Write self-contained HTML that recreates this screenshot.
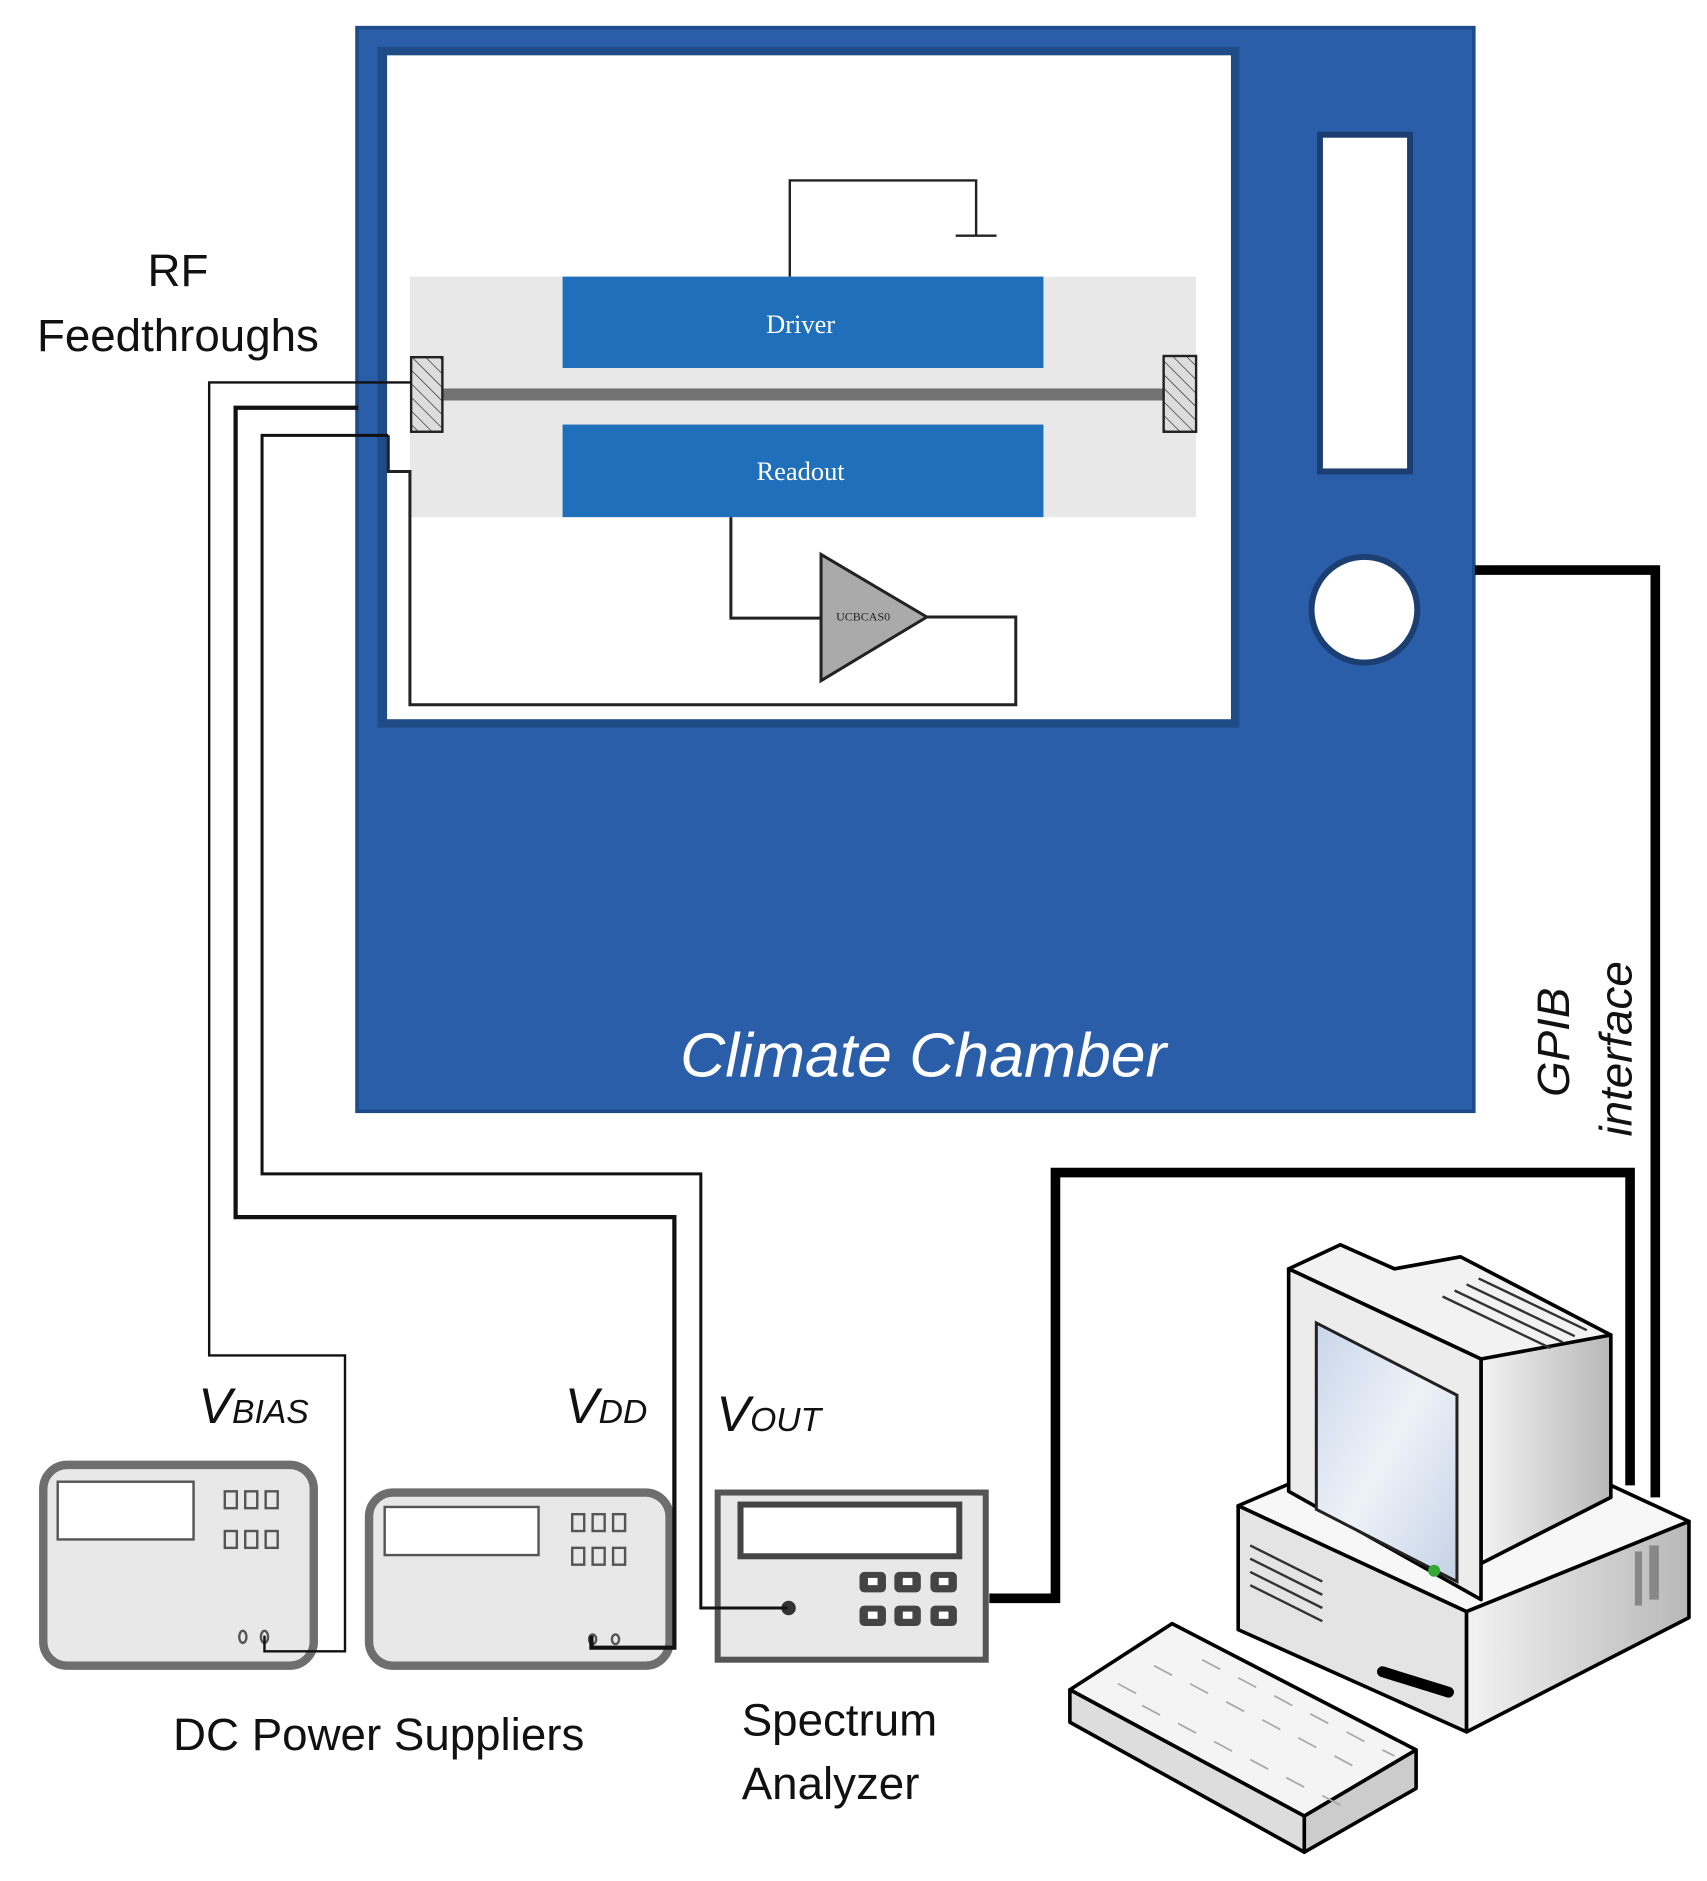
<!DOCTYPE html>
<html><head><meta charset="utf-8"><style>html,body{margin:0;padding:0;background:#fff}svg{display:block}</style></head>
<body>
<svg width="1707" height="1881" viewBox="0 0 1420 1564" preserveAspectRatio="none" xmlns="http://www.w3.org/2000/svg">
<defs>
<pattern id="h" width="8" height="8" patternUnits="userSpaceOnUse" patternTransform="rotate(-45)"><rect width="8" height="8" fill="#ddd"/><line x1="0" y1="0" x2="0" y2="8" stroke="#333" stroke-width="1.2"/></pattern>
<linearGradient id="scr" x1="0" y1="0" x2="1" y2="1"><stop offset="0" stop-color="#c8d6ea"/><stop offset="0.5" stop-color="#eef2f8"/><stop offset="1" stop-color="#c4d2e6"/></linearGradient>
<linearGradient id="side" x1="0" y1="0" x2="1" y2="0"><stop offset="0" stop-color="#f2f2f2"/><stop offset="1" stop-color="#b8b8b8"/></linearGradient>
</defs>
<!-- chamber -->
<rect x="297" y="23" width="929" height="901" fill="#2a5ea8" stroke="#1c4a8a" stroke-width="3"/>
<rect x="314" y="39" width="717" height="566" fill="#1f4b86"/>
<rect x="322" y="46" width="702" height="552" fill="#fff"/>
<rect x="1098" y="112" width="75" height="280" fill="#fff" stroke="#1c3f73" stroke-width="5"/>
<circle cx="1135" cy="507" r="44" fill="#fff" stroke="#1c3f73" stroke-width="5"/>
<text x="768" y="895" font-family="Liberation Sans, sans-serif" font-style="italic" font-size="52" fill="#fff" text-anchor="middle">Climate Chamber</text>
<!-- inner -->
<rect x="341" y="230" width="654" height="200" fill="#e8e8e8"/>
<polyline points="657,230 657,150 812,150 812,196" fill="none" stroke="#222" stroke-width="2"/>
<line x1="795" y1="196" x2="829" y2="196" stroke="#222" stroke-width="2"/>
<rect x="468" y="230" width="400" height="76" fill="#1f6fba"/>
<text x="666" y="277" font-family="Liberation Serif, serif" font-size="22" fill="#fff" text-anchor="middle">Driver</text>
<rect x="468" y="353" width="400" height="77" fill="#1f6fba"/>
<text x="666" y="399" font-family="Liberation Serif, serif" font-size="22" fill="#fff" text-anchor="middle">Readout</text>
<rect x="360" y="323" width="612" height="10" fill="#727272"/>
<rect x="342" y="297" width="26" height="62" fill="url(#h)" stroke="#222" stroke-width="2"/>
<rect x="968" y="296" width="27" height="63" fill="url(#h)" stroke="#222" stroke-width="2"/>
<polyline points="608,430 608,514 683,514" fill="none" stroke="#222" stroke-width="2.5"/>
<polygon points="683,461 683,566 771,513" fill="#aaa" stroke="#222" stroke-width="2.5"/>
<text x="718" y="516" font-family="Liberation Serif, serif" font-size="10" fill="#222" text-anchor="middle">UCBCAS0</text>
<polyline points="771,513 845,513 845,586 341,586 341,392 323,392 323,362" fill="none" stroke="#222" stroke-width="2.5"/>
<!-- DC supplies -->
<rect x="36" y="1218" width="225" height="167" rx="20" fill="#e8e8e8" stroke="#6e6e6e" stroke-width="7"/>
<rect x="48" y="1232" width="113" height="48" fill="#fff" stroke="#555" stroke-width="2"/>
<g fill="none" stroke="#555" stroke-width="2">
<rect x="187" y="1240" width="10" height="14"/><rect x="204" y="1240" width="10" height="14"/><rect x="221" y="1240" width="10" height="14"/>
<rect x="187" y="1273" width="10" height="14"/><rect x="204" y="1273" width="10" height="14"/><rect x="221" y="1273" width="10" height="14"/>
<ellipse cx="202" cy="1361" rx="3" ry="5"/><ellipse cx="220" cy="1361" rx="3" ry="5"/>
</g>
<rect x="307" y="1241" width="250" height="144" rx="20" fill="#e8e8e8" stroke="#6e6e6e" stroke-width="7"/>
<rect x="320" y="1253" width="128" height="40" fill="#fff" stroke="#555" stroke-width="2"/>
<g fill="none" stroke="#555" stroke-width="2">
<rect x="476" y="1259" width="10" height="14"/><rect x="493" y="1259" width="10" height="14"/><rect x="510" y="1259" width="10" height="14"/>
<rect x="476" y="1287" width="10" height="14"/><rect x="493" y="1287" width="10" height="14"/><rect x="510" y="1287" width="10" height="14"/>
<ellipse cx="493" cy="1363" rx="3" ry="4"/><ellipse cx="512" cy="1363" rx="3" ry="4"/>
</g>
<!-- spectrum analyzer -->
<rect x="597" y="1241" width="223" height="139" fill="#e8e8e8" stroke="#555" stroke-width="5"/>
<rect x="616" y="1251" width="182" height="43" fill="#fff" stroke="#444" stroke-width="5"/>
<g fill="#444">
<rect x="715" y="1307" width="22" height="17" rx="4"/><rect x="744" y="1307" width="22" height="17" rx="4"/><rect x="774" y="1307" width="22" height="17" rx="4"/>
<rect x="715" y="1335" width="22" height="17" rx="4"/><rect x="744" y="1335" width="22" height="17" rx="4"/><rect x="774" y="1335" width="22" height="17" rx="4"/>
</g>
<g fill="#fff"><rect x="722" y="1312" width="8" height="6"/><rect x="751" y="1312" width="8" height="6"/><rect x="781" y="1312" width="8" height="6"/><rect x="722" y="1340" width="8" height="6"/><rect x="751" y="1340" width="8" height="6"/><rect x="781" y="1340" width="8" height="6"/></g>
<circle cx="656" cy="1337" r="6" fill="#333"/>
<!-- wires -->
<polyline points="342,318 174,318 174,1127 287,1127 287,1373 220,1373 220,1360" fill="none" stroke="#111" stroke-width="2"/>
<polyline points="298,339 196,339 196,1012 561,1012 561,1370 492,1370 492,1360" fill="none" stroke="#111" stroke-width="3.5"/>
<polyline points="323,362 218,362 218,976 583,976 583,1337 655,1337" fill="none" stroke="#111" stroke-width="2.5"/>
<polyline points="1227,474 1377,474 1377,1245" fill="none" stroke="#000" stroke-width="8"/>
<polyline points="823,1329 878,1329 878,975 1356,975 1356,1235" fill="none" stroke="#000" stroke-width="8"/>
<text transform="translate(1305,912) rotate(-90)" font-family="Liberation Sans, sans-serif" font-style="italic" font-size="38" fill="#111">GPIB</text>
<text transform="translate(1357,945) rotate(-90)" font-family="Liberation Sans, sans-serif" font-style="italic" font-size="38" fill="#111">interface</text>
<!-- labels -->
<text x="148" y="238" font-family="Liberation Sans, sans-serif" font-size="38" fill="#111" text-anchor="middle">RF</text>
<text x="148" y="292" font-family="Liberation Sans, sans-serif" font-size="38" fill="#111" text-anchor="middle">Feedthroughs</text>
<g font-family="Liberation Sans Narrow, Liberation Sans, sans-serif" font-style="italic" fill="#111">
<text x="165" y="1183" font-size="42">V<tspan font-size="28">BIAS</tspan></text>
<text x="470" y="1183" font-size="42">V<tspan font-size="28">DD</tspan></text>
<text x="596" y="1190" font-size="42">V<tspan font-size="28">OUT</tspan></text>
</g>
<text x="315" y="1455" font-family="Liberation Sans, sans-serif" font-size="38" fill="#111" text-anchor="middle">DC Power Suppliers</text>
<text x="617" y="1443" font-family="Liberation Sans, sans-serif" font-size="38" fill="#111">Spectrum</text>
<text x="617" y="1496" font-family="Liberation Sans, sans-serif" font-size="38" fill="#111">Analyzer</text>
<!-- computer base -->
<g stroke="#000" stroke-width="3" stroke-linejoin="round">
<polygon points="1030,1252 1072,1234 1340,1235 1405,1265 1220,1340" fill="#f7f7f7"/>
<polygon points="1030,1252 1220,1340 1220,1440 1030,1355" fill="#e4e4e4"/>
<polygon points="1220,1340 1405,1265 1405,1345 1220,1440" fill="url(#side)"/>
<!-- monitor -->
<polygon points="1072,1055 1115,1035 1160,1055 1215,1045 1340,1110 1285,1135 1232,1130" fill="#f2f2f2"/>
<polygon points="1232,1130 1340,1110 1340,1245 1232,1300" fill="url(#side)"/>
<polygon points="1072,1055 1232,1130 1232,1330 1072,1240" fill="#ececec"/>
</g>
<polygon points="1095,1100 1212,1160 1212,1315 1095,1255" fill="url(#scr)" stroke="#222" stroke-width="2.5"/>
<circle cx="1193" cy="1306" r="5" fill="#3a3"/>
<g stroke="#333" stroke-width="2">
<line x1="1230" y1="1063" x2="1320" y2="1106"/><line x1="1220" y1="1068" x2="1310" y2="1111"/><line x1="1210" y1="1073" x2="1300" y2="1116"/><line x1="1200" y1="1078" x2="1290" y2="1121"/>
<line x1="1040" y1="1285" x2="1100" y2="1315"/><line x1="1040" y1="1296" x2="1100" y2="1326"/><line x1="1040" y1="1307" x2="1100" y2="1337"/><line x1="1040" y1="1318" x2="1100" y2="1348"/>
</g>
<line x1="1150" y1="1390" x2="1205" y2="1407" stroke="#000" stroke-width="9" stroke-linecap="round"/>
<rect x="1360" y="1290" width="6" height="45" fill="#888"/><rect x="1372" y="1285" width="8" height="45" fill="#888"/>
<!-- keyboard -->
<g stroke="#000" stroke-width="3" stroke-linejoin="round">
<polygon points="890,1405 975,1350 1178,1455 1085,1510" fill="#f4f4f4"/>
<polygon points="890,1405 1085,1510 1085,1540 890,1432" fill="#ddd"/>
<polygon points="1085,1510 1178,1455 1178,1487 1085,1540" fill="#ccc"/>
</g>
<g fill="none" stroke="#aaa" stroke-width="1.5">
<path d="M930,1400 l15,8 M960,1385 l15,8 M990,1400 l15,8 M1020,1415 l15,8 M1050,1430 l15,8 M1080,1445 l15,8 M1110,1460 l15,8 M950,1418 l15,8 M980,1433 l15,8 M1010,1448 l15,8 M1040,1463 l15,8 M1070,1478 l15,8 M1100,1493 l15,8 M1000,1380 l15,8 M1030,1395 l15,8 M1060,1410 l15,8 M1090,1425 l15,8 M1120,1440 l15,8 M1150,1455 l10,5"/>
</g>
</svg>
</body></html>
